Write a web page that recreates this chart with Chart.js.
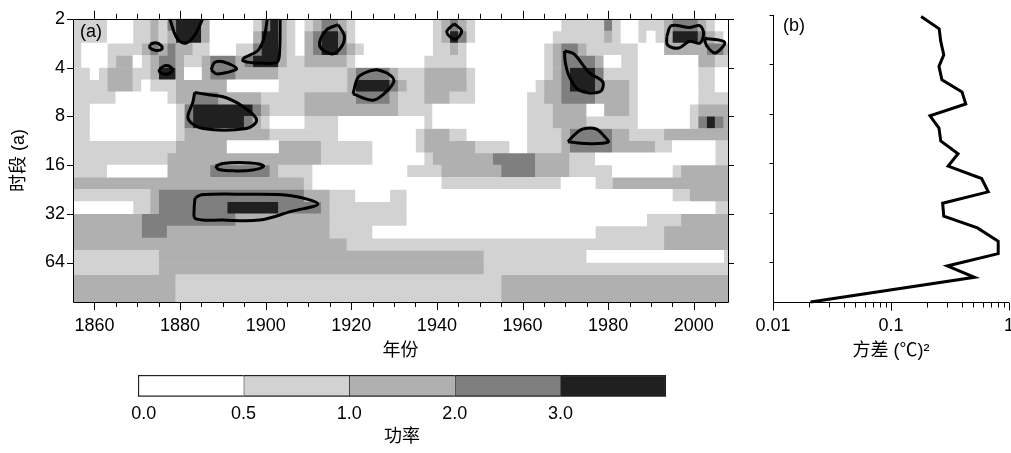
<!DOCTYPE html>
<html>
<head>
<meta charset="utf-8">
<script src="https://cdn.jsdelivr.net/npm/chart.js@4/dist/chart.umd.min.js"></script>
<style>
  html, body { margin: 0; padding: 0; background: #fff; overflow: hidden; }
  body { width: 1011px; height: 453px; position: relative; }
  .panel { position: absolute; }
</style>
</head>
<body>
<div class="panel" style="left:0;top:0"><canvas id="wavelet" width="745" height="370"></canvas></div>
<div class="panel" style="left:740px;top:0"><canvas id="variance" width="300" height="370"></canvas></div>
<div class="panel" style="left:100px;top:360px"><canvas id="colorbar" width="600" height="93"></canvas></div>
<script>
// axis ticks
const yearTicks = [1860, 1880, 1900, 1920, 1940, 1960, 1980, 2000];
const periodTicks = [2, 4, 8, 16, 32, 64];
const varianceTicks = [0.01, 0.1, 1];

// wavelet power grid: one row per 1/4 octave (period 2a downwards),
// one cell per 2 years from 1855; digits are power classes, "d*n" = n cells
const gridStartYear = 1855;
const gridYearStep = 2;
const gridOctaveStep = 0.25;
const powerGrid = [
  '1*4 0*3 1*2 2 1 3 4*3 2 0*5 1 3 4 2 1 0 1 2 3*2 2 1 0*9 1 2 3 2 1 0*10 1*5 3 1 0*2 1*3 2 3*3 2 1 0*2',
  '1*4 0*3 1*2 2 1 2 4*3 2 0*5 2 4*2 2 1 0 2 3 4*2 3 1 0*9 1 2 4 3 1 0*9 1*6 2 1 0*2 1 0 1 2 4*3 3 2 1 0',
  '1 0*3 1*4 2 3 2 3 2*2 1*2 0*3 1*2 3 4*2 2 1 0 2 3 4*2 3 2 1 0*8 1*2 2 1 0*9 1 2 3*2 2 1*6 0*3 2*5 3*2 2',
  '1 0*3 1 2*2 0 1 2 3*2 2 1*2 2 3*3 2 3 4*3 2 1*2 2*5 1 0*8 1*5 0*9 1 2 3*4 2 0*2 1*2 0*7 2*2 1*2',
  '1*2 0 1 2*3 1*2 2 4*2 2 0*2 2 3*3 2*5 1*8 2 3*4 2 1*3 2*5 1 0*8 1 2 3 4*3 3 1*4 0*7 1*2 0*2',
  '1*4 2*3 1 0 1*3 2*6 0*6 1*8 2 4*4 3 2 1*2 2*5 1 0*7 1 2*2 3 4*3 3 2*3 1 0*7 1*2 0*2',
  '1*5 0*6 1 2*2 3*3 2*5 1*5 2*6 3*4 2 1*3 2*3 1*3 0*6 1*2 2*2 3*4 2*4 1 0*7 1*4',
  '1*2 0*10 1 3 4*7 3 2 1*4 2*11 1*4 0*11 1*3 2*4 0*2 2*3 1 0*6 1 2*4',
  '1*2 0*10 1 3 4*6 3 2 1 0*4 1*4 0*10 1 0*11 1*3 2*4 1*6 0*6 1 3 4 3 2',
  '1*2 0*10 1 2*10 1*8 0*9 1 2*3 1*2 0*7 1*4 2 3*5 2*2 1*4 2*8',
  '1*12 2*6 0*6 2*5 1*6 0*5 1 2*6 1*4 0*2 1*4 2 3*5 2*5 1*2 0*5 1*2',
  '1*11 2*18 1*6 0*6 1 2*7 3*5 2*4 1*3 0*14 1*2',
  '1*4 0*7 2*5 3*7 2 1*4 0*11 1*4 2*7 3*4 2*4 1*5 0*7 1 2*6',
  '2*27 1 0*15 1*14 0*4 1*2 2*14',
  '1*9 2 3*17 2*3 1*3 0*4 1*2 0*31 1*2 2*5',
  '0*7 1*2 2 3*8 4*6 3*5 2 1*9 0*36 1*2',
  '2*8 3*11 2*11 1*9 0*28 1*4 2*6',
  '2*8 3*3 2*19 1*5 0*26 1*8 2*8',
  '2*32 1*37 2*8',
  '1*10 2*38 1*12 0*16 1',
  '1*10 2*38 1*29',
  '2*12 1*38 2*27',
  '2*12 1*38 2*27',
  '2*12 1*38 2*27'
];
const gridColumns = 77;

// power classes of the colour bar
const levelLabels = ['0.0', '0.5', '1.0', '2.0', '3.0'];
const levelColors = ['#ffffff', '#d2d2d2', '#b0b0b0', '#7f7f7f', '#202020'];

// thick black significance outlines, [year, log2(period)]
const sigContours = [
  [[1877.6, 1.0], [1879.3, 1.4], [1881.3, 1.5], [1883.4, 1.34], [1885.3, 1.0]],
  [[1873, 1.52], [1874.4, 1.49], [1875.6, 1.55], [1875.8, 1.62], [1874.4, 1.65], [1873, 1.6], [1873, 1.52]],
  [[1875.2, 2.03], [1876.6, 1.96], [1878, 2.0], [1878.1, 2.08], [1876.6, 2.14], [1875.2, 2.09], [1875.2, 2.03]],
  [[1887.3, 2.05], [1888, 1.9], [1890, 1.88], [1893.2, 2.02], [1891, 2.1], [1888.5, 2.13], [1887.3, 2.05]],
  [[1900.4, 1.0], [1899.6, 1.4], [1898.2, 1.65], [1895, 1.8], [1894.7, 1.86], [1897, 1.9], [1902.5, 1.9], [1903.2, 1.75], [1903.4, 1.0]],
  [[1883.4, 2.51], [1886, 2.55], [1890.8, 2.62], [1895.5, 2.85], [1897.9, 3.08], [1895.5, 3.25], [1885.4, 3.25], [1881.9, 3.05], [1883, 2.71], [1883.4, 2.51]],
  [[1916.9, 1.12], [1918.4, 1.36], [1917.5, 1.6], [1915.4, 1.72], [1912.6, 1.55], [1914.2, 1.23], [1916.9, 1.12]],
  [[1920.4, 2.54], [1921.6, 2.2], [1924, 2.08], [1926.3, 2.05], [1929.3, 2.17], [1929.9, 2.3], [1927.5, 2.55], [1925, 2.67], [1920.4, 2.54]],
  [[1944, 1.1], [1945.8, 1.25], [1944.2, 1.42], [1942.3, 1.27], [1944, 1.1]],
  [[1969.8, 1.66], [1972, 1.72], [1975.5, 2.1], [1978.8, 2.3], [1978, 2.5], [1973.3, 2.47], [1971, 2.2], [1970, 1.9], [1969.8, 1.66]],
  [[1970.6, 3.52], [1972.5, 3.35], [1974.1, 3.26], [1977.2, 3.26], [1979, 3.4], [1980, 3.53], [1975, 3.56], [1970.6, 3.52]],
  [[1993.7, 1.36], [1994.8, 1.14], [1999, 1.18], [2001.4, 1.14], [2002.3, 1.3], [2001.4, 1.5], [1999, 1.46], [1996.5, 1.6], [1993.9, 1.54], [1993.7, 1.36]],
  [[2002.5, 1.4], [2007.2, 1.48], [2005, 1.7], [2003, 1.55], [2002.5, 1.4]],
  [[1888.3, 4.02], [1890, 3.97], [1894, 3.95], [1898.5, 3.98], [1899.5, 4.03], [1897, 4.1], [1893, 4.12], [1889, 4.09], [1888.3, 4.02]],
  [[1883.5, 4.68], [1885, 4.61], [1895, 4.6], [1906, 4.63], [1912.2, 4.8], [1906, 4.95], [1898.6, 5.13], [1890, 5.13], [1883.6, 5.1], [1883.3, 4.9], [1883.5, 4.68]]
];

// panel (b): global variance against period
const variancePeriodLog2 = [1.03, 1.28, 1.535, 1.805, 2.04, 2.31, 2.56, 2.80, 3.04, 3.29, 3.55, 3.81,
  4.06, 4.31, 4.58, 4.81, 5.07, 5.31, 5.58, 5.83, 6.08, 6.31, 6.81];
const varianceValues = [0.18, 0.256, 0.264, 0.28, 0.255, 0.27, 0.40, 0.43, 0.214, 0.255, 0.264, 0.37,
  0.305, 0.586, 0.667, 0.274, 0.28, 0.54, 0.81, 0.81, 0.30, 0.51, 0.0208];

const periodMinLog2 = 1;
const periodMaxLog2 = 6.81;

Chart.defaults.font.family = "'Liberation Sans', 'Noto Sans CJK SC', sans-serif";
Chart.defaults.font.size = 18;
Chart.defaults.color = '#000';

function expandRow(row) {
  const cells = [];
  row.trim().split(/\s+/).forEach(tok => {
    const [lv, n] = tok.split('*');
    for (let i = 0; i < (n ? +n : 1); i++) cells.push(+lv);
  });
  while (cells.length < gridColumns) cells.push(cells[cells.length - 1]);
  return cells.slice(0, gridColumns);
}

// merge equal neighbouring cells of a row into one floating bar
const levelBars = levelColors.map(() => []);
powerGrid.forEach((row, r) => {
  const cells = expandRow(row);
  const y = periodMinLog2 + gridOctaveStep * (r + 0.5);
  let start = 0;
  for (let c = 1; c <= cells.length; c++) {
    if (c === cells.length || cells[c] !== cells[start]) {
      levelBars[cells[start]].push({
        x: [gridStartYear + start * gridYearStep, gridStartYear + c * gridYearStep],
        y: y
      });
      start = c;
    }
  }
});

const powerDatasets = levelBars.map((bars, i) => ({
  type: 'bar',
  indexAxis: 'y',
  data: bars,
  backgroundColor: levelColors[i],
  borderWidth: 0,
  grouped: false,
  barPercentage: 1,
  categoryPercentage: 1,
  order: 1
}));

const contourDatasets = sigContours.map(loop => ({
  type: 'line',
  data: loop.map(p => ({ x: p[0], y: p[1] })),
  borderColor: '#000',
  borderWidth: 3,
  pointRadius: 0,
  tension: 0.35,
  fill: false,
  order: 0
}));

const frameA = {
  id: 'frameA',
  afterDraw(chart) {
    const { ctx, chartArea: a, scales: { x, y } } = chart;
    ctx.save();
    ctx.strokeStyle = '#000';
    ctx.lineWidth = 1;
    ctx.beginPath();
    ctx.rect(Math.round(a.left) + 0.5, Math.round(a.top) + 0.5,
      Math.round(a.right - a.left), Math.round(a.bottom - a.top));
    for (let yr = 1860; yr <= 2005; yr += 5) {
      const px = Math.round(x.getPixelForValue(yr)) + 0.5;
      const len = yr % 20 === 0 ? 8 : 5;
      ctx.moveTo(px, a.bottom); ctx.lineTo(px, a.bottom + len);
      ctx.moveTo(px, a.top); ctx.lineTo(px, a.top - len);
    }
    periodTicks.forEach(p => {
      const py = Math.round(y.getPixelForValue(Math.log2(p))) + 0.5;
      ctx.moveTo(a.left - 6, py); ctx.lineTo(a.left, py);
      ctx.moveTo(a.right, py); ctx.lineTo(a.right + 6, py);
    });
    ctx.stroke();
    ctx.fillStyle = '#000';
    ctx.font = "18px 'Liberation Sans', sans-serif";
    ctx.textBaseline = 'middle';
    ctx.fillText('(a)', a.left + 7, a.top + 13);
    ctx.restore();
  }
};

new Chart(document.getElementById('wavelet'), {
  type: 'bar',
  data: { datasets: [...contourDatasets, ...powerDatasets] },
  options: {
    responsive: false,
    animation: false,
    events: [],
    layout: { padding: { left: 0, top: 15, right: 17, bottom: 0 } },
    plugins: { legend: { display: false }, tooltip: { enabled: false } },
    scales: {
      x: {
        type: 'linear', position: 'bottom', min: 1855, max: 2008, offset: false,
        grid: { display: false, drawTicks: false, offset: false },
        border: { display: false },
        afterBuildTicks: s => { s.ticks = yearTicks.map(v => ({ value: v })); },
        afterFit: s => { s.height = 68; },
        ticks: { padding: 13, autoSkip: false, maxRotation: 0, callback: v => String(v) },
        title: { display: true, text: '年份', padding: { top: 0, bottom: 8 } }
      },
      y: {
        type: 'linear', position: 'left', reverse: true,
        min: periodMinLog2, max: periodMaxLog2, offset: false,
        grid: { display: false, drawTicks: false, offset: false },
        border: { display: false },
        afterBuildTicks: s => { s.ticks = periodTicks.map(p => ({ value: Math.log2(p) })); },
        afterFit: s => { s.width = 73; },
        ticks: { padding: 8, autoSkip: false, callback: v => String(Math.round(Math.pow(2, v))) },
        title: { display: true, text: '时段 (a)', padding: { top: 8, bottom: 0 } }
      }
    }
  },
  plugins: [frameA]
});

const frameB = {
  id: 'frameB',
  afterDraw(chart) {
    const { ctx, chartArea: a, scales: { x, y } } = chart;
    ctx.save();
    ctx.strokeStyle = '#000';
    ctx.lineWidth = 1;
    ctx.beginPath();
    const l = Math.round(a.left) + 0.5;
    const b = Math.round(a.bottom) + 0.5;
    ctx.moveTo(l, a.top); ctx.lineTo(l, b); ctx.lineTo(a.right, b);
    periodTicks.forEach(p => {
      const py = Math.round(y.getPixelForValue(Math.log2(p))) + 0.5;
      ctx.moveTo(l - 4, py); ctx.lineTo(l, py);
    });
    [0.01, 0.1].forEach(dec => {
      for (let k = 1; k <= 10; k++) {
        const px = Math.round(x.getPixelForValue(dec * k)) + 0.5;
        const len = (k === 1 || k === 10) ? 8 : 5;
        ctx.moveTo(px, b); ctx.lineTo(px, b + len);
      }
    });
    ctx.stroke();
    ctx.fillStyle = '#000';
    ctx.font = "18px 'Liberation Sans', sans-serif";
    ctx.textBaseline = 'middle';
    ctx.fillText('(b)', a.left + 10, a.top + 11);
    ctx.restore();
  }
};

new Chart(document.getElementById('variance'), {
  type: 'line',
  data: {
    datasets: [{
      data: varianceValues.map((v, i) => ({ x: v, y: variancePeriodLog2[i] })),
      borderColor: '#000',
      borderWidth: 3,
      pointRadius: 0,
      tension: 0,
      fill: false,
      clip: 3
    }]
  },
  options: {
    responsive: false,
    animation: false,
    events: [],
    layout: { padding: { left: 0, top: 15, right: 31, bottom: 0 } },
    plugins: { legend: { display: false }, tooltip: { enabled: false } },
    scales: {
      x: {
        type: 'logarithmic', position: 'bottom', min: 0.01, max: 1,
        grid: { display: false, drawTicks: false },
        border: { display: false },
        afterBuildTicks: s => { s.ticks = varianceTicks.map(v => ({ value: v })); },
        afterFit: s => { s.height = 68; },
        ticks: { padding: 13, autoSkip: false, maxRotation: 0, callback: v => String(v) },
        title: { display: true, text: '方差 (℃)²', padding: { top: 0, bottom: 8 } }
      },
      y: {
        type: 'linear', position: 'left', reverse: true,
        min: periodMinLog2, max: periodMaxLog2,
        grid: { display: false, drawTicks: false },
        border: { display: false },
        afterFit: s => { s.width = 33; },
        ticks: { display: false }
      }
    }
  },
  plugins: [frameB]
});

new Chart(document.getElementById('colorbar'), {
  type: 'bar',
  data: {
    labels: ['功率'],
    datasets: levelColors.map((c, i) => ({
      data: [1],
      backgroundColor: c,
      borderColor: '#222',
      borderWidth: { top: 1.5, bottom: 1.5, left: i === 0 ? 1.5 : 1, right: i === levelColors.length - 1 ? 1.5 : 0 },
      borderSkipped: false,
      barPercentage: 1,
      categoryPercentage: 1
    }))
  },
  options: {
    indexAxis: 'y',
    responsive: false,
    animation: false,
    events: [],
    layout: { padding: { left: 38, top: 15, right: 34, bottom: 0 } },
    plugins: { legend: { display: false }, tooltip: { enabled: false } },
    scales: {
      x: {
        type: 'linear', stacked: true, min: 0, max: levelColors.length,
        grid: { display: false, drawTicks: false },
        border: { display: false },
        afterBuildTicks: s => { s.ticks = levelLabels.map((l, i) => ({ value: i === 0 ? 0.055 : i })); },
        afterFit: s => { s.height = 56.3; },
        ticks: { padding: 7, autoSkip: false, maxRotation: 0, callback: (v, i) => levelLabels[i] },
        title: { display: true, text: '功率', padding: { top: 0, bottom: 5 } }
      },
      y: { stacked: true, display: false }
    }
  }
});
</script>
</body>
</html>
